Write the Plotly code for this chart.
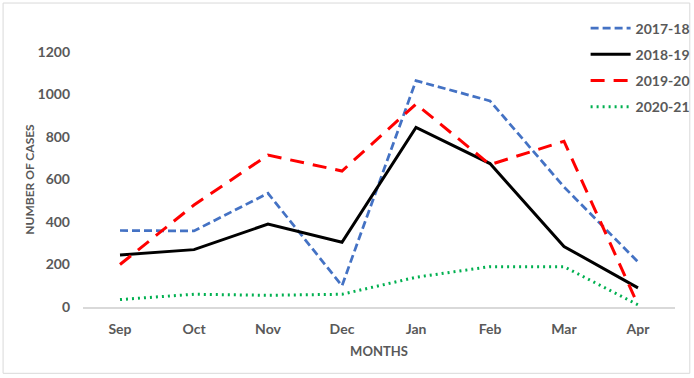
import plotly.graph_objects as go

months = ["Sep", "Oct", "Nov", "Dec", "Jan", "Feb", "Mar", "Apr"]
s2017_18 = [360, 358, 535, 100, 1065, 970, 565, 212]
s2018_19 = [245, 270, 390, 305, 845, 675, 285, 90]
s2019_20 = [200, 480, 715, 640, 955, 670, 780, 10]
s2020_21 = [35, 60, 55, 60, 140, 190, 190, 10]
y_ticks = [0, 200, 400, 600, 800, 1000, 1200]

FONT = "Lato, Open Sans, sans-serif"
GRAY = "#595959"

fig = go.Figure()
fig.add_trace(go.Scatter(x=months, y=s2017_18, mode="lines", name="2017-18", legendgroup="a",
                         line=dict(color="#4472C4", width=2.75, dash="8px,4px")))
fig.add_trace(go.Scatter(x=months, y=s2018_19, mode="lines", name="2018-19", legendgroup="b",
                         line=dict(color="#000000", width=3)))
fig.add_trace(go.Scatter(x=months, y=s2019_20, mode="lines", name="2019-20", legendgroup="c",
                         line=dict(color="#FF0000", width=3, dash="14px,9px")))
fig.add_trace(go.Scatter(x=months, y=s2020_21, mode="lines", name="2020-21", legendgroup="d",
                         line=dict(color="#00B050", width=3, dash="2px,4px")))

fig.update_layout(
    width=694, height=378,
    margin=dict(l=83, r=19, t=52, b=71, autoexpand=False),
    plot_bgcolor="white", paper_bgcolor="white",
    font=dict(family=FONT, color=GRAY, size=13),
    xaxis=dict(range=[-0.5, 7.5], showgrid=False, showline=True, linecolor="#D9D9D9",
               linewidth=1.5, ticks="", ticklabelstandoff=8, automargin=False,
               tickfont=dict(family=FONT, size=14, color=GRAY, weight="bold"),
               title=dict(text="<b>MONTHS</b>", font=dict(family=FONT, size=13, color=GRAY), standoff=11),
               zeroline=False),
    yaxis=dict(range=[0, 1200], tickvals=y_ticks, showgrid=False, zeroline=False, showline=False,
               ticks="", ticklabelstandoff=12, automargin=False,
               tickfont=dict(family=FONT, size=14, color=GRAY, weight="bold"),
               title=dict(text="<b>NUMBER OF CASES</b>", font=dict(family=FONT, size=12, color=GRAY), standoff=0)),
    legend=dict(x=0.849, xanchor="left", y=1.155, yanchor="top", traceorder="grouped",
                font=dict(family=FONT, size=14, color=GRAY, weight="bold"),
                tracegroupgap=5, itemwidth=40, bgcolor="rgba(0,0,0,0)"),
    shapes=[dict(type="rect", xref="paper", yref="paper",
                 x0=-0.135, x1=1.025, y0=-0.26, y1=1.192,
                 line=dict(color="#D9D9D9", width=1), fillcolor="rgba(0,0,0,0)", layer="below")],
    showlegend=True,
)

fig.write_html("out.html", config={"displayModeBar": False},
               post_script="document.body.style.margin='0';")
